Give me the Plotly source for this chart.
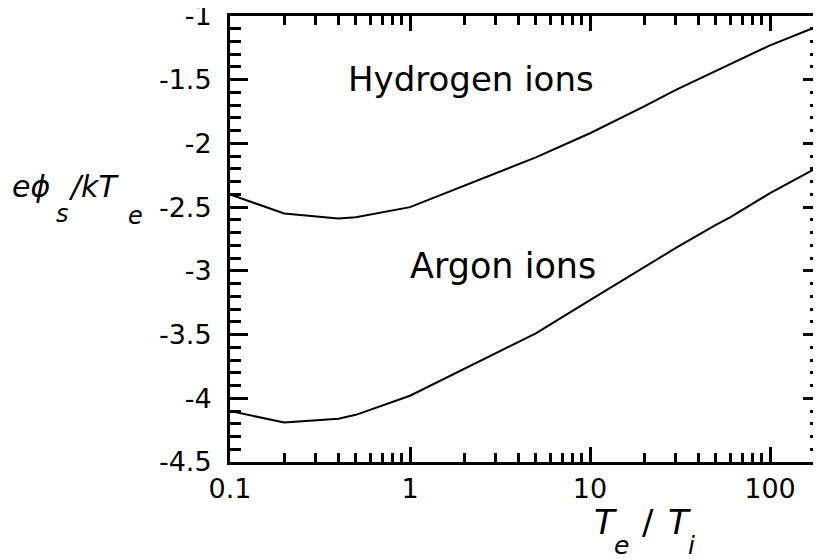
import plotly.graph_objects as go

# ---- data ----
te_ti = [0.1, 0.2, 0.4, 0.5, 1, 5, 10, 20, 30, 50, 60, 100, 200]
hydrogen = [-2.40, -2.55, -2.59, -2.58, -2.50, -2.11, -1.92, -1.71, -1.58, -1.43, -1.38, -1.23, -1.06]
argon = [-4.10, -4.19, -4.16, -4.13, -3.98, -3.49, -3.23, -2.97, -2.82, -2.64, -2.58, -2.39, -2.16]

x_tickvals = [0.1, 1, 10, 100]
x_ticktext = ["0.1", "1", "10", "100"]
y_tickvals = [-1, -1.5, -2, -2.5, -3, -3.5, -4, -4.5]
y_ticktext = ["-1", "-1.5", "-2", "-2.5", "-3", "-3.5", "-4", "-4.5"]

FONT = "DejaVu Sans"
W, H = 821, 560
OFF = 8  # page body margin offset
# desired plot area in page pixels: x 230..821, y 16..462.5
L = 230 - OFF
T = 16 - OFF
R = W - (821 - OFF)
B = H - (462.5 - OFF)
PW, PH = W - L - R, H - T - B


def px(x):
    return (x - OFF - L) / PW


def py(y):
    return (H - B - (y - OFF)) / PH


fig = go.Figure()
for name, ys in [("Hydrogen ions", hydrogen), ("Argon ions", argon)]:
    fig.add_trace(go.Scatter(x=te_ti, y=ys, mode="lines", name=name,
                             line=dict(color="black", width=2), showlegend=False))

annos = []


def txt(s, x, y, size):
    annos.append(dict(text=s, x=px(x), y=py(y), xref="paper", yref="paper",
                      xanchor="center", yanchor="middle", showarrow=False,
                      font=dict(family=FONT, size=size, color="black")))


# series labels
txt("Hydrogen ions", 471, 79.5, 34)
txt("Argon ions", 503, 266, 35)

# x axis title  T_e / T_i
txt("<i>T</i>", 605, 523, 34)
txt("<i>e</i>", 621.5, 546, 25)
txt("/", 648, 523, 34)
txt("<i>T</i>", 679.5, 523, 34)
txt("<i>i</i>", 691, 546, 25)

# y axis title  eϕ_s / kT_e
txt("<i>eϕ</i>", 31, 186.6, 30)
txt("<i>s</i>", 62.5, 214.7, 24)
txt("<i>/kT</i>", 93, 186.6, 30)
txt("<i>e</i>", 135.5, 216.7, 24)

fig.update_layout(
    width=W, height=H,
    margin=dict(l=L, r=R, t=T, b=B, pad=0, autoexpand=False),
    paper_bgcolor="white", plot_bgcolor="white",
    font=dict(family=FONT, size=27, color="black"),
    annotations=annos,
    xaxis=dict(
        type="log", range=[-1, 2.2833], automargin=False,
        tickvals=x_tickvals, ticktext=x_ticktext, ticklabeloverflow="allow",
        ticks="inside", ticklen=15, tickwidth=3, tickcolor="black",
        showline=True, linewidth=3, linecolor="black", mirror="ticks",
        showgrid=False, zeroline=False, ticklabelstandoff=1,
        tickfont=dict(family=FONT, size=27, color="black"),
        minor=dict(ticks="inside", ticklen=9, tickwidth=3, tickcolor="black",
                   dtick="D1", showgrid=False),
    ),
    yaxis=dict(
        range=[-4.5, -1], automargin=False,
        tickvals=y_tickvals, ticktext=y_ticktext, ticklabeloverflow="allow",
        ticks="inside", ticklen=18, tickwidth=3, tickcolor="black",
        showline=True, linewidth=3, linecolor="black", mirror="ticks",
        showgrid=False, zeroline=False, ticklabelstandoff=10,
        tickfont=dict(family=FONT, size=27, color="black"),
        minor=dict(ticks="inside", ticklen=11, tickwidth=2.5, tickcolor="black",
                   dtick=0.1, showgrid=False),
    ),
)

fig.write_html("out.html")
